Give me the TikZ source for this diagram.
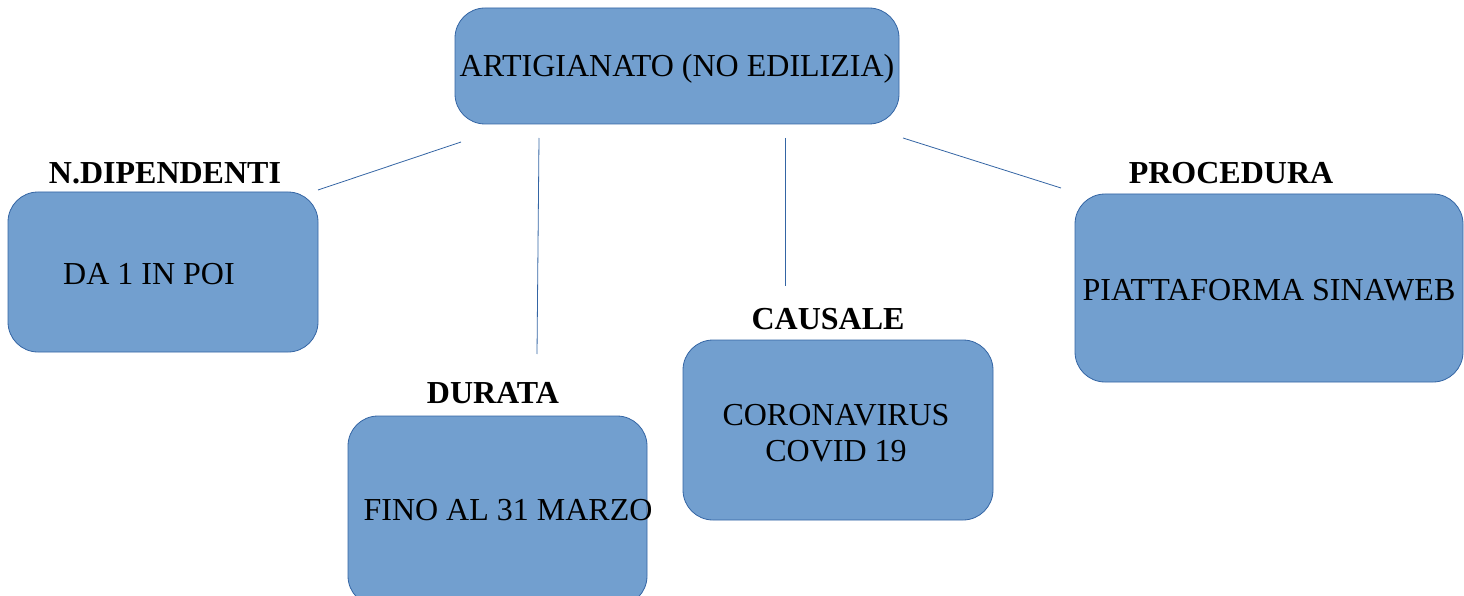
\documentclass[tikz,border=0pt]{standalone}
\usepackage{fontspec}
\setmainfont{Liberation Serif}
\definecolor{boxfill}{HTML}{729FCF}
\definecolor{boxline}{HTML}{3465A4}
\begin{document}
\begin{tikzpicture}[x=1pt,y=-1pt,
  card/.style={draw=boxline,fill=boxfill,line width=0.8pt,rounded corners=30pt,
    inner sep=0pt,align=center},
  txt/.style={inner sep=0pt,align=center,font=\fontsize{32}{36}\selectfont},
  tag/.style={inner sep=0pt,font=\fontsize{32}{36}\selectfont\bfseries},
  link/.style={draw=boxline,line width=0.8pt}]
\useasboundingbox (0,0) rectangle (1464,596);
% boxes
\node[card,minimum width=444pt,minimum height=116pt] (top) at (677,66) {};
\node[txt] (toptxt) at (677,69) {ARTIGIANATO (NO EDILIZIA)};
\node[card,minimum width=310pt,minimum height=160pt] (dip) at (163,272) {};
\node[txt] (diptxt) at (149,274) {DA 1 IN POI};
\node[card,minimum width=299pt,minimum height=190pt] (dur) at (497.5,511) {};
\node[txt] (durtxt) at (508,510) {FINO AL 31 MARZO};
\node[card,minimum width=310pt,minimum height=180pt] (cau) at (838,430) {};
\node[txt] (cautxt) at (836,433) {CORONAVIRUS\\COVID 19};
\node[card,minimum width=388pt,minimum height=188pt] (pro) at (1269,288) {};
\node[txt] (protxt) at (1269,290) {PIATTAFORMA SINAWEB};
% labels
\node[tag] (ldip) at (165,173) {N.DIPENDENTI};
\node[tag] (ldur) at (493,393) {DURATA};
\node[tag] (lcau) at (828,319) {CAUSALE};
\node[tag] (lpro) at (1231,173) {PROCEDURA};
% connector ends
\coordinate (a1) at (461,142); \coordinate (b1) at (318,190);
\coordinate (a2) at (539,138); \coordinate (b2) at (537,354);
\coordinate (a3) at (785,138); \coordinate (b3) at (785,286);
\coordinate (a4) at (903,138); \coordinate (b4) at (1061,188);
\draw[link] (a1) -- (b1);
\draw[link] (a2) -- (b2);
\draw[link] (a3) -- (b3);
\draw[link] (a4) -- (b4);
\end{tikzpicture}
\end{document}
